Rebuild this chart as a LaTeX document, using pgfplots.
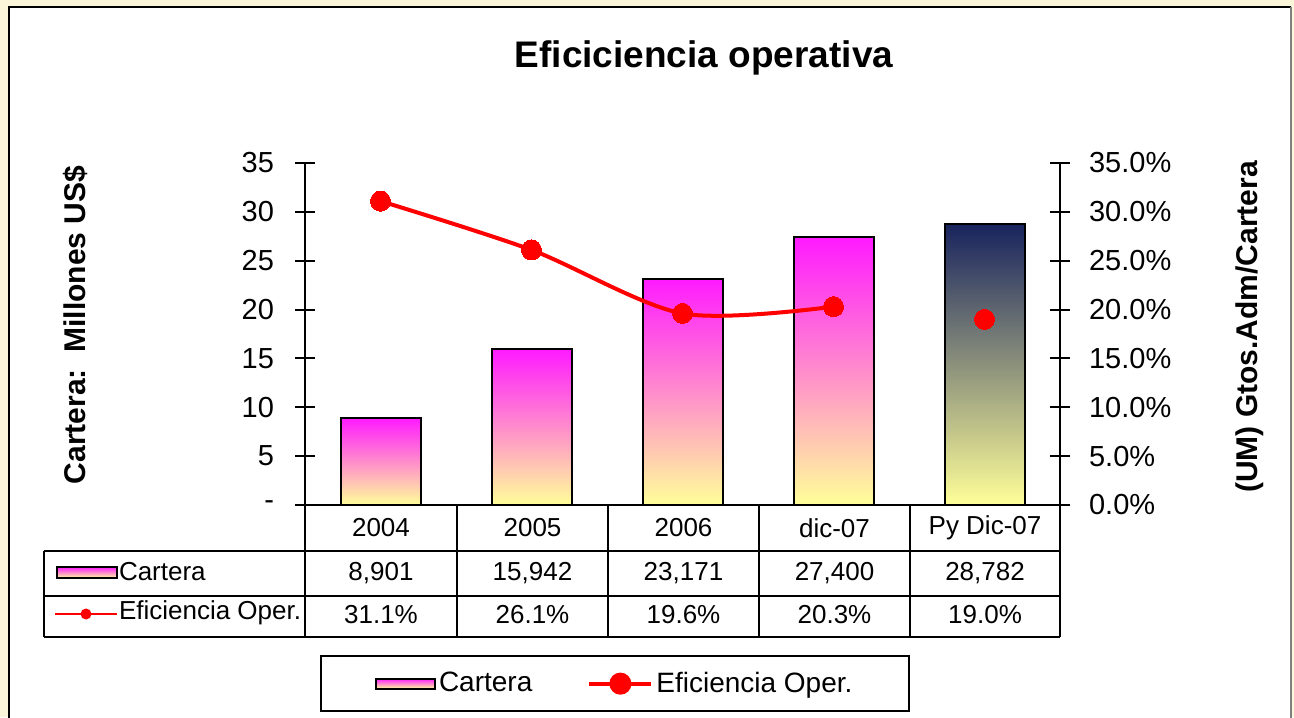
\documentclass[border=0pt]{standalone}
\usepackage{pgfplots}
\pgfplotsset{compat=1.18}
\usepackage{fontspec}
\setmainfont{Liberation Sans}
\definecolor{mag}{HTML}{FF1AFF}
\definecolor{lyel}{HTML}{FFFF99}
\definecolor{navyb}{HTML}{18235E}
\definecolor{bgy}{HTML}{FBF5DA}
\newcommand{\fs}[1]{\fontsize{#1}{#1}\selectfont}
\begin{document}
\begin{tikzpicture}
\useasboundingbox (0,0) rectangle (647pt,358.5pt);
\begin{scope}[x=0.5pt,y=-0.5pt,yshift=358.5pt]
\fill[bgy] (0,0) rectangle (1294,717);
\fill[white] (9,7) rectangle (1291,730);
\draw[black, line width=1pt] (9,730) -- (9,7) -- (1291,7);
\draw[gray, line width=1pt] (1291,7) -- (1291,730);
\end{scope}

\begin{axis}[
  at={(152.5pt,106pt)}, anchor=south west,
  scale only axis, width=377.5pt, height=171pt,
  xmin=-0.5, xmax=4.5, ymin=0, ymax=35,
  axis x line*=bottom, axis y line*=left,
  axis line style={-, line width=1pt},
  xtick=\empty,
  ytick={0,5,...,35}, yticklabels={-,5,10,15,20,25,30,35},
  tick align=center, major tick length=10pt,
  every tick/.style={black, line width=1pt},
  yticklabel style={font=\fs{14.5}, anchor=east, xshift=-7pt},
  /pgf/number format/assume math mode=true,
  clip=false,
]
\addplot[ybar, bar width=40pt, bar shift=0pt, draw=black, line width=1pt, top color=mag, bottom color=lyel] coordinates {(0,8.901)};
\addplot[ybar, bar width=40pt, bar shift=0pt, draw=black, line width=1pt, top color=mag, bottom color=lyel] coordinates {(1,15.942)};
\addplot[ybar, bar width=40pt, bar shift=0pt, draw=black, line width=1pt, top color=mag, bottom color=lyel] coordinates {(2,23.171)};
\addplot[ybar, bar width=40pt, bar shift=0pt, draw=black, line width=1pt, top color=mag, bottom color=lyel] coordinates {(3,27.400)};
\addplot[ybar, bar width=40pt, bar shift=0pt, draw=black, line width=1pt, top color=navyb, bottom color=lyel] coordinates {(4,28.782)};
\end{axis}

\begin{axis}[
  at={(152.5pt,106pt)}, anchor=south west,
  scale only axis, width=377.5pt, height=171pt,
  xmin=-0.5, xmax=4.5, ymin=0, ymax=35,
  axis x line=none, axis y line*=right,
  axis line style={-, line width=1pt},
  xtick=\empty,
  ytick={0,5,...,35},
  yticklabel={\pgfmathprintnumber[fixed,fixed zerofill,precision=1]{\tick}\%},
  tick align=center, major tick length=10pt,
  every tick/.style={black, line width=1pt},
  yticklabel style={font=\fs{14.5}, anchor=west, xshift=6pt},
  /pgf/number format/assume math mode=true,
  clip=false,
  legend columns=2,
  legend style={at={(0.0199,-0.4386)}, anchor=north west, draw=black, line width=1pt,
    font=\fs{14}, inner xsep=27pt, inner ysep=6pt,
    nodes={inner xsep=1.5pt},
    /tikz/every odd column/.append style={column sep=0pt},
    /tikz/every even column/.append style={column sep=26pt}},
]
\addlegendimage{legend image code/.code={\draw[top color=mag,bottom color=lyel,draw=black,line width=1pt] (0pt,-2.5pt) rectangle (29.5pt,2.5pt);}}
\addlegendentry{Cartera}
\addplot[red, line width=2pt, smooth, mark=*, mark size=5pt, mark options={fill=red, draw=red, line width=0pt},
  legend image code/.code={\draw[red,line width=2pt] (0pt,0pt) -- (31pt,0pt); \fill[red] (15.5pt,0pt) circle (4.5pt);}]
  coordinates {(0,31.1) (1,26.1) (2,19.6) (3,20.3)};
\addlegendentry{Eficiencia Oper.}
\addplot[red, only marks, mark=*, mark size=5pt, mark options={fill=red, draw=red, line width=0pt}, forget plot]
  coordinates {(4,19.0)};
\end{axis}

\begin{scope}[x=0.5pt,y=-0.5pt,yshift=358.5pt, line width=1pt]
\foreach \x in {305,457,608,759,910,1060} \draw (\x,505) -- (\x,637);
\draw (44,551) -- (44,637);
\foreach \y in {551,596,637} \draw (44,\y) -- (1060,\y);
\foreach \x/\t in {381/2004,532.5/2005,683.5/2006,834.5/dic-07,985/Py Dic-07}
  \node[font=\fs{13}] at (\x,528) {\t};
\foreach \x/\t in {381/{8,901},532.5/{15,942},683.5/{23,171},834.5/{27,400},985/{28,782}}
  \node[font=\fs{13}] at (\x,573) {\t};
\foreach \x/\t in {381/31.1\%,532.5/26.1\%,683.5/19.6\%,834.5/20.3\%,985/19.0\%}
  \node[font=\fs{13}] at (\x,615) {\t};
\draw[top color=mag,bottom color=lyel,draw=black,line width=1pt] (57,567) rectangle (117,578);
\node[font=\fs{13}, anchor=west, inner sep=0pt] at (118,572) {Cartera};
\draw[red, line width=1pt] (55,614) -- (117,614);
\fill[red] (86,614) circle (5.5);
\node[font=\fs{13}, anchor=west, inner sep=0pt] at (118,613) {Eficiencia Oper.};
\node[font=\bfseries\fs{18.5}] at (704,58) {Eficiciencia operativa};
\node[font=\bfseries\fs{15}, rotate=90] at (75,325) {Cartera:\ \ Millones US\$};
\node[font=\bfseries\fs{15}, rotate=90] at (1250,327) {(UM)\ Gtos.Adm/Cartera};
\end{scope}
\end{tikzpicture}
\end{document}
